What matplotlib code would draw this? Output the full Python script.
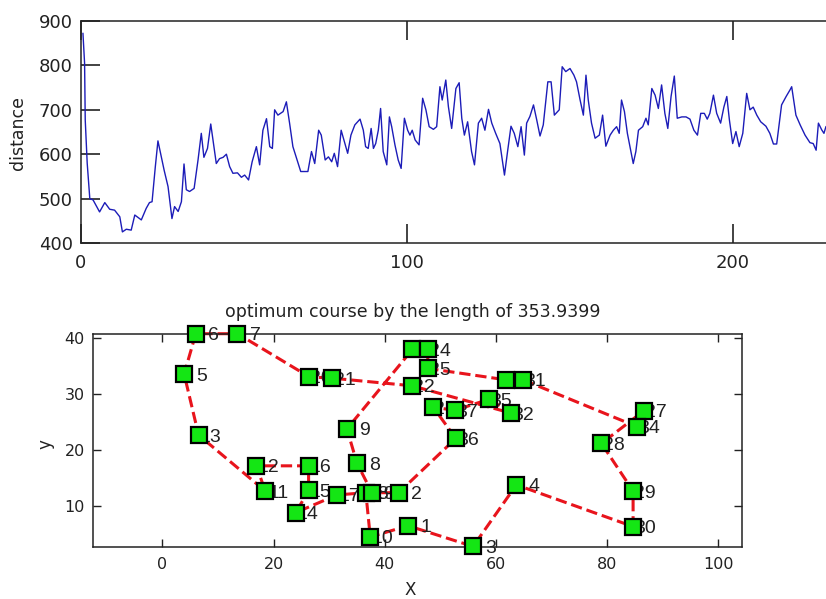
import numpy as np
import matplotlib
matplotlib.use('Agg')
import matplotlib.pyplot as plt

# ---- convergence history: tour length per iteration
iters = [0.6, 1.1, 1.3, 1.9, 2.7, 3.7, 5.7, 7.3, 8.8, 10.3,
         11.9, 12.7, 13.9, 15.4, 16.5, 18.5, 20.0, 21.0, 21.8, 22.8,
         23.6, 24.4, 25.5, 26.7, 27.9, 28.7, 29.8, 30.8, 31.6, 32.3,
         33.3, 34.7, 35.9, 36.9, 37.7, 38.8, 39.8, 40.5, 41.5, 42.5,
         43.6, 44.6, 45.6, 46.6, 48.0, 49.2, 50.2, 51.4, 52.5, 53.8,
         54.8, 55.8, 56.9, 57.9, 58.7, 59.4, 60.4, 62.0, 63.0, 64.0,
         65.0, 66.0, 67.4, 69.6, 70.7, 71.7, 72.9, 73.7,
         74.9, 75.9, 76.9, 77.7, 78.7, 79.8, 80.8, 81.8, 82.8, 84.0,
         85.6, 86.6, 87.3, 88.1, 89.0, 89.7, 90.4, 91.2, 91.9, 92.7,
         93.8, 94.6, 95.3, 96.3, 97.3, 98.2, 99.2, 100.2, 100.9, 101.6,
         102.5, 103.7, 104.8, 105.8, 106.8, 108.1, 109.1, 110.1, 110.8, 111.9,
         112.7, 113.7, 115.0, 116.0, 116.8, 117.6, 118.6, 119.8, 120.7, 121.9,
         122.9, 123.9, 125.0, 126.0, 127.2, 128.5, 129.9, 130.9, 131.9, 132.9,
         134.0, 135.0, 136.0, 136.7, 137.7, 138.8, 139.8, 140.8, 141.8, 143.2,
         144.2, 145.2, 146.7, 147.6, 148.7, 150.0,
         151.2, 152.0, 153.1, 154.1, 154.9, 155.6, 156.6, 157.7, 159.0, 160.0,
         161.0, 162.3, 163.3, 164.3, 165.1, 165.8, 166.7, 167.6, 168.4, 169.4,
         170.2, 171.0, 172.3, 173.3, 174.0, 175.1, 176.1, 177.1, 178.1, 179.1,
         180.0, 181.0, 182.0, 182.9, 184.3, 185.6, 186.8, 188.0, 189.1, 190.1,
         191.2, 192.1, 192.9, 194.0, 195.0, 196.2, 197.2, 198.1, 198.9, 199.9,
         200.9, 201.9, 203.0, 204.2, 205.2, 206.2, 207.3, 208.5, 210.1, 211.3,
         212.4, 213.4, 214.9, 216.3, 217.5, 218.0, 219.3, 220.6, 222.1, 223.6,
         224.6, 225.5, 226.2, 227.2, 227.9, 228.5, 229.6]
dist = [872, 805, 677, 580, 500, 497, 470, 491, 476, 474,
        459, 425, 431, 429, 463, 452, 478, 491, 493, 572,
        630, 602, 564, 527, 455, 482, 471, 493, 578, 520,
        516, 523, 587, 647, 593, 613, 668, 632, 579, 590,
        593, 600, 572, 557, 558, 548, 553, 542, 583, 617,
        576, 654, 680, 617, 613, 700, 688, 696, 718, 669,
        617, 594, 561, 561, 606, 579, 654, 643,
        587, 594, 583, 602, 572, 654, 628, 602, 643, 666,
        679, 654, 617, 613, 658, 613, 624, 654, 703, 606,
        576, 684, 662, 621, 587, 568, 681, 654, 643, 654,
        632, 621, 726, 700, 662, 656, 662, 752, 722, 767,
        707, 658, 748, 761, 681, 643, 673, 606, 576, 670,
        681, 654, 701, 670, 647, 624, 553, 609, 663, 647,
        617, 662, 598, 670, 685, 711, 677, 641, 666, 763,
        763, 688, 700, 797, 786, 793,
        778, 763, 722, 688, 778, 722, 670, 636, 643, 688,
        618, 643, 654, 662, 647, 722, 696, 647, 617, 579,
        606, 654, 662, 681, 666, 748, 733, 703, 756, 692,
        658, 730, 776, 681, 684, 684, 679, 654, 643, 692,
        692, 679, 692, 733, 692, 670, 706, 730, 677, 624,
        651, 617, 647, 737, 700, 706, 688, 673, 663, 647,
        623, 623, 711, 730, 745, 752, 688, 666, 643, 626,
        624, 609, 670, 655, 647, 662, 668]

# ---- city coordinates (city k is index k-1)
city_x = [44.2, 42.5, 55.9, 63.7, 3.9, 6.0, 13.5, 35.0, 33.2, 37.4,
          18.5, 16.9, 6.5, 24.0, 26.3, 26.3, 31.4, 36.6, 37.7, 26.4,
          30.6, 44.9, 45.0, 47.8, 47.7, 48.7, 86.6, 79.0, 84.7, 84.7,
          64.9, 62.8, 61.9, 85.4, 58.8, 52.8, 52.6]
city_y = [6.4, 12.3, 2.7, 13.7, 33.5, 40.7, 40.7, 17.6, 23.7, 4.4,
          12.6, 17.1, 22.6, 8.75, 12.7, 17.1, 11.9, 12.3, 12.3, 33.0,
          32.75, 31.4, 37.9, 37.9, 34.5, 27.6, 26.9, 21.1, 12.6, 6.25,
          32.45, 26.5, 32.45, 24.1, 29.0, 22.0, 27.0]
route = [6, 5, 13, 11, 12, 16, 15, 14, 17, 18, 10, 1, 3, 4, 30, 29, 28, 27, 34,
         31, 33, 25, 24, 23, 9, 8, 19, 2, 36, 26, 37, 35, 32, 22, 21, 20, 7, 6]
best_len = 353.9399

W, H = 826, 599
fig = plt.figure(figsize=(W / 100, H / 100), dpi=100)

# ============================================================
# top: distance history (axes runs past the right edge of the figure)
# ============================================================
ax1 = fig.add_axes([81 / W, 1 - 243 / H, 978 / W, 222 / H])
ax1.plot(iters, dist, color='#1c1cb8', lw=1.0)
ax1.set_xlim(0, 300)
ax1.set_ylim(400, 900)
ax1.set_xticks([0, 100, 200])
ax1.set_yticks(np.arange(400, 901, 100))
ax1.tick_params(direction='in', length=14, width=1.2, top=True, right=True,
                labelsize=13, colors='#222222')
ax1.tick_params(axis='x', pad=8)
ax1.tick_params(axis='y', pad=6)
for s in ax1.spines.values():
    s.set_linewidth(1.1)
    s.set_color('#222222')
fig.text(17.5 / W, 1 - 133.5 / H, 'distance', rotation=90, ha='center',
         va='center', fontsize=12.5, color='#222222')

# ============================================================
# bottom: best route
# ============================================================
ax2 = fig.add_axes([93 / W, 1 - 547 / H, 649 / W, 213.3 / H])
xs = [city_x[c - 1] for c in route]
ys = [city_y[c - 1] for c in route]
ax2.plot(xs, ys, '--', color='#e8141c', lw=2.2, zorder=2, clip_on=False)
for k, (cx, cy) in enumerate(zip(city_x, city_y), start=1):
    ax2.annotate(str(k), (cx, cy), xytext=(23, 0), textcoords='offset pixels',
                 ha='right', va='center_baseline', fontsize=14,
                 family='Liberation Sans', color='#222222', zorder=3)
ax2.plot(city_x, city_y, 's', ms=11, mfc='#14e614', mec='black', mew=1.6,
         ls='none', zorder=4, clip_on=False)
ax2.set_xlim(-12.5, 104.3)
ax2.set_ylim(2.6, 40.7)
ax2.set_xticks(np.arange(0, 101, 20))
ax2.set_yticks([10, 20, 30, 40])
ax2.tick_params(direction='in', length=6, width=1.0, top=True, right=True,
                labelsize=11.5, colors='#222222')
ax2.tick_params(axis='x', pad=7)
ax2.tick_params(axis='y', pad=6)
for s in ax2.spines.values():
    s.set_linewidth(1.1)
    s.set_color('#222222')

fig.text(413 / W, 1 - 317 / H, f'optimum course by the length of {best_len:.4f}',
         ha='center', va='baseline', fontsize=12.5, color='#222222')
fig.text(410 / W, 1 - 590 / H, 'X', ha='center', va='center', fontsize=12,
         color='#222222')
fig.text(45 / W, 1 - 444 / H, 'y', rotation=90, ha='center', va='center',
         fontsize=12, color='#222222')

fig.savefig('out.png', dpi=100)
